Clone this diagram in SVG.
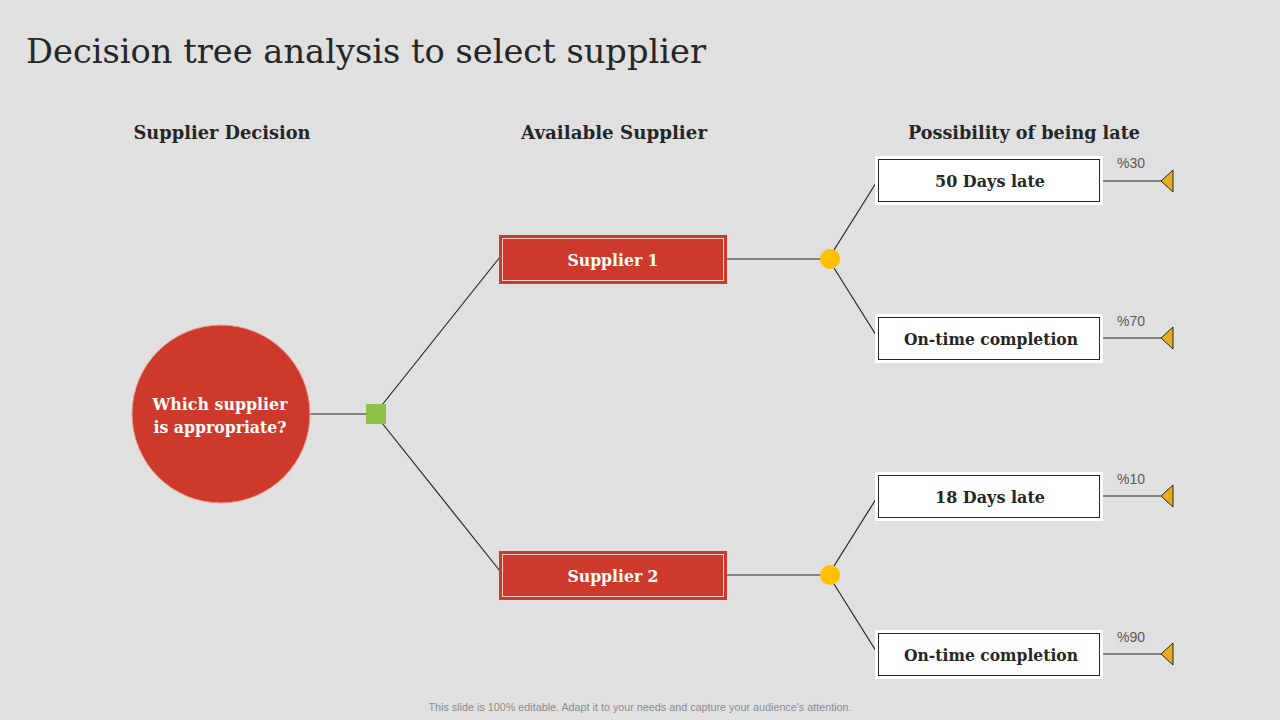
<svg xmlns="http://www.w3.org/2000/svg" width="1280" height="720" viewBox="0 0 1280 720">
<style>
.serif{font-family:"DejaVu Serif","Liberation Serif",serif;}
.hdr{font-family:"DejaVu Serif","Liberation Serif",serif;font-size:19px;font-weight:bold;fill:#262626;text-anchor:middle;}
.wtxt{font-family:"DejaVu Serif","Liberation Serif",serif;font-size:17px;font-weight:bold;fill:#ffffff;text-anchor:middle;}
.btxt{font-family:"DejaVu Serif","Liberation Serif",serif;font-size:17px;font-weight:bold;fill:#262626;text-anchor:middle;}
.pct{font-family:"Liberation Sans",Arial,sans-serif;font-size:14px;fill:#595959;}
.conn{stroke:#262626;stroke-width:1.2;fill:none;}
.sup{fill:#cd3a2c;stroke:#cd3a2c;stroke-width:1;}
.supin{fill:none;stroke:#f6d2c8;stroke-width:1;}
.out{fill:#ffffff;}
.outin{fill:#ffffff;stroke:#262626;stroke-width:1;}
.chance{fill:#ffc000;}
.tri{fill:#e3ae1c;stroke:#262626;stroke-width:1;}
</style>
<rect x="0" y="0" width="1280" height="720" fill="#e0e0e0"/>
<text x="26" y="63" class="serif" font-size="34" fill="#262626" textLength="680" lengthAdjust="spacingAndGlyphs">Decision tree analysis to select supplier</text>
<text x="222" y="139" class="hdr" textLength="177" lengthAdjust="spacingAndGlyphs">Supplier Decision</text>
<text x="614" y="139" class="hdr" textLength="186" lengthAdjust="spacingAndGlyphs">Available Supplier</text>
<text x="1024" y="139" class="hdr" textLength="232" lengthAdjust="spacingAndGlyphs">Possibility of being late</text>
<g id="connectors">
<line class="conn" x1="310" y1="414" x2="367" y2="414"/>
<line class="conn" x1="382" y1="405" x2="500" y2="257"/>
<line class="conn" x1="382" y1="423" x2="500" y2="571"/>
<line class="conn" x1="726" y1="259" x2="822" y2="259"/>
<line class="conn" x1="726" y1="575" x2="822" y2="575"/>
<line class="conn" x1="834" y1="250" x2="876" y2="183"/>
<line class="conn" x1="834" y1="268" x2="876" y2="335"/>
<line class="conn" x1="834" y1="566" x2="876" y2="499"/>
<line class="conn" x1="834" y1="584" x2="876" y2="651"/>
<line class="conn" x1="1102" y1="181" x2="1162" y2="181"/>
<line class="conn" x1="1102" y1="338" x2="1162" y2="338"/>
<line class="conn" x1="1102" y1="496" x2="1162" y2="496"/>
<line class="conn" x1="1102" y1="654" x2="1162" y2="654"/>
</g>
<g id="decision-root">
<circle cx="221" cy="414" r="89" fill="#cd3a2c" stroke="#e8a090" stroke-width="1"/>
<text x="220" y="410" class="wtxt" textLength="135" lengthAdjust="spacingAndGlyphs">Which supplier</text>
<text x="220" y="433" class="wtxt" textLength="133" lengthAdjust="spacingAndGlyphs">is appropriate?</text>
</g>
<g id="decision-node">
<rect x="366" y="404" width="20" height="20" fill="#8bc34a"/>
</g>
<g id="supplier1">
<rect class="sup" x="499.5" y="235.5" width="227" height="48"/>
<rect class="supin" x="502.5" y="238.5" width="221" height="42"/>
<text x="613" y="266" class="wtxt" textLength="91" lengthAdjust="spacingAndGlyphs">Supplier 1</text>
</g>
<g id="supplier2">
<rect class="sup" x="499.5" y="551.5" width="227" height="48"/>
<rect class="supin" x="502.5" y="554.5" width="221" height="42"/>
<text x="613" y="582" class="wtxt" textLength="91" lengthAdjust="spacingAndGlyphs">Supplier 2</text>
</g>
<g id="chance1"><circle class="chance" cx="830" cy="259" r="10"/></g>
<g id="chance2"><circle class="chance" cx="830" cy="575" r="10"/></g>
<g id="outcome1">
<rect class="out" x="875" y="156" width="228" height="49"/>
<rect class="outin" x="878.5" y="159.5" width="221" height="42"/>
<text x="990" y="187" class="btxt" textLength="110" lengthAdjust="spacingAndGlyphs">50 Days late</text>
</g>
<g id="outcome2">
<rect class="out" x="875" y="314" width="228" height="49"/>
<rect class="outin" x="878.5" y="317.5" width="221" height="42"/>
<text x="991" y="345" class="btxt" textLength="174" lengthAdjust="spacingAndGlyphs">On-time completion</text>
</g>
<g id="outcome3">
<rect class="out" x="875" y="472" width="228" height="49"/>
<rect class="outin" x="878.5" y="475.5" width="221" height="42"/>
<text x="990" y="503" class="btxt" textLength="110" lengthAdjust="spacingAndGlyphs">18 Days late</text>
</g>
<g id="outcome4">
<rect class="out" x="875" y="630" width="228" height="49"/>
<rect class="outin" x="878.5" y="633.5" width="221" height="42"/>
<text x="991" y="661" class="btxt" textLength="174" lengthAdjust="spacingAndGlyphs">On-time completion</text>
</g>
<g id="end1"><polygon class="tri" points="1161,181 1173,170 1173,192"/><text x="1117" y="168" class="pct">%30</text></g>
<g id="end2"><polygon class="tri" points="1161,338 1173,327 1173,349"/><text x="1117" y="326" class="pct">%70</text></g>
<g id="end3"><polygon class="tri" points="1161,496 1173,485 1173,507"/><text x="1117" y="484" class="pct">%10</text></g>
<g id="end4"><polygon class="tri" points="1161,654 1173,643 1173,665"/><text x="1117" y="642" class="pct">%90</text></g>
<text x="640" y="711" font-family="Liberation Sans, Arial, sans-serif" font-size="10.8" fill="#8c8c8c" text-anchor="middle" textLength="423" lengthAdjust="spacingAndGlyphs">This slide is 100% editable. Adapt it to your needs and capture your audience's attention.</text>
</svg>
